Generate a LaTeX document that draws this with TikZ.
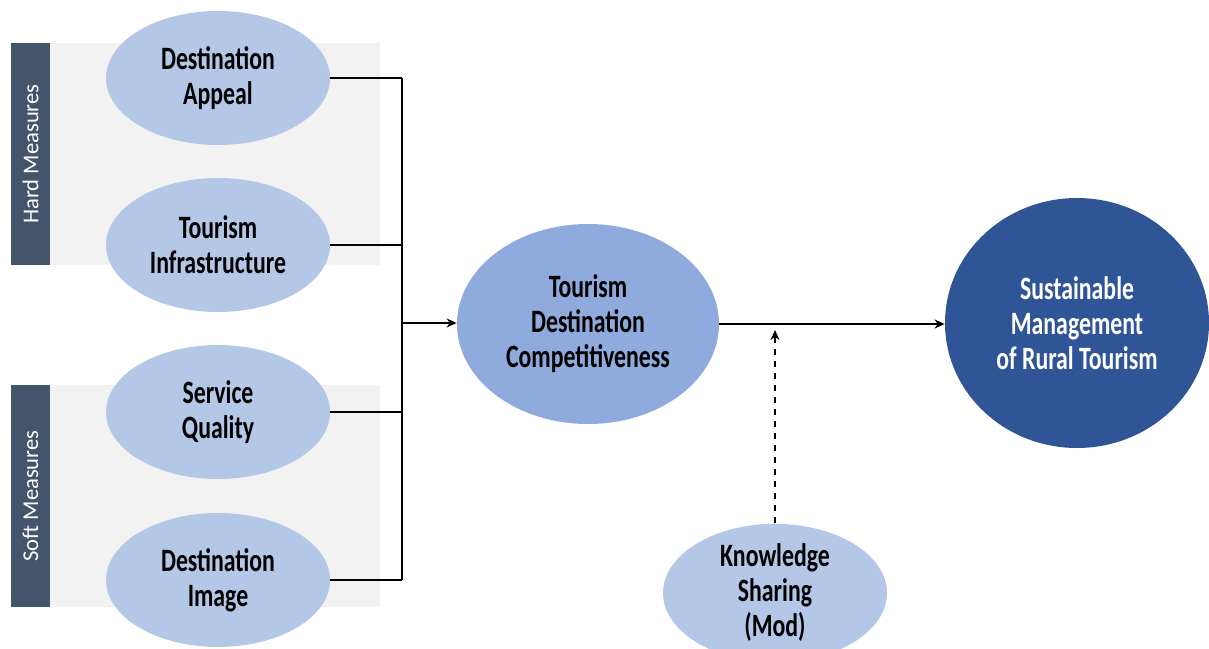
\documentclass[tikz,border=0pt]{standalone}
\usepackage{fontspec}
\setmainfont{Carlito}[FakeStretch=0.73]
\newfontfamily\tagfont{Carlito}
\usetikzlibrary{arrows.meta,shapes.geometric,positioning,calc}

\definecolor{lightblue}{HTML}{B4C7E7}
\definecolor{midblue}{HTML}{8FAADC}
\definecolor{darkblue}{HTML}{2F5597}
\definecolor{slate}{HTML}{44546A}
\definecolor{panel}{HTML}{F2F2F2}

\begin{document}
\begin{tikzpicture}[
        x=0.5pt, y=-0.5pt,
        factor/.style={ellipse, fill=lightblue, inner sep=0pt, align=center,
            minimum width=112pt, minimum height=67pt,
            font=\fontsize{16.3}{17.5}\selectfont\bfseries},
        mediator/.style={factor, fill=midblue, minimum width=131pt, minimum height=100pt},
        outcome/.style={factor, fill=darkblue, text=white, minimum width=132pt, minimum height=125pt},
        group/.style={fill=panel, minimum width=184.5pt, minimum height=111pt, inner sep=0pt},
        tag/.style={fill=slate, text=white, minimum width=19.5pt, minimum height=111pt, inner sep=0pt},
        tag label/.style={rotate=90, text=white, font=\tagfont\fontsize{11.3}{13}\selectfont},
        link/.style={line width=1pt},
        pile/.style={line width=1pt, -{Stealth[length=5pt,width=4.5pt]}}
    ]
    \useasboundingbox (0,0) rectangle (1209,648);
    % panels
    \node[group] (hard) at (195.5,154) {};
    \node[group] (soft) at (195.5,496) {};
    \node[tag] (hardbar) at (30.5,154) {};
    \node[tag] (softbar) at (30.5,496) {};
    \node[tag label] (hardtxt) at (hardbar) {Hard Measures};
    \node[tag label] (softtxt) at (softbar) {Soft Measures};
    % factors
    \node[factor] (da) at (218,78) {Destination\\Appeal};
    \node[factor] (ti) at (218,245) {Tourism\\Infrastructure};
    \node[factor] (sq) at (218,412) {Service\\Quality};
    \node[factor] (di) at (218,580) {Destination\\Image};
    \node[mediator] (tdc) at (588,324) {Tourism\\Destination\\Competitiveness};
    \node[outcome] (smrt) at (1077,323) {Sustainable\\Management\\of Rural Tourism};
    \node[factor] (ks) at (775,593) {Knowledge\\Sharing\\(Mod)};
    \coordinate (jn) at (402,323);
    \coordinate (mod) at (775,330);
    % connectors
    \draw[link] (da.east) -- (da.east -| jn);
    \draw[link] (ti.east) -- (ti.east -| jn);
    \draw[link] (sq.east) -- (sq.east -| jn);
    \draw[link] (di.east) -- (di.east -| jn);
    \draw[link] (da.east -| jn) -- (di.east -| jn);
    \draw[pile] (jn) -- (jn -| tdc.west);
    \draw[pile] (tdc.east) -- (tdc.east -| smrt.west);
    \draw[pile, dashed] (ks.north) -- (mod);
\end{tikzpicture}
\end{document}
